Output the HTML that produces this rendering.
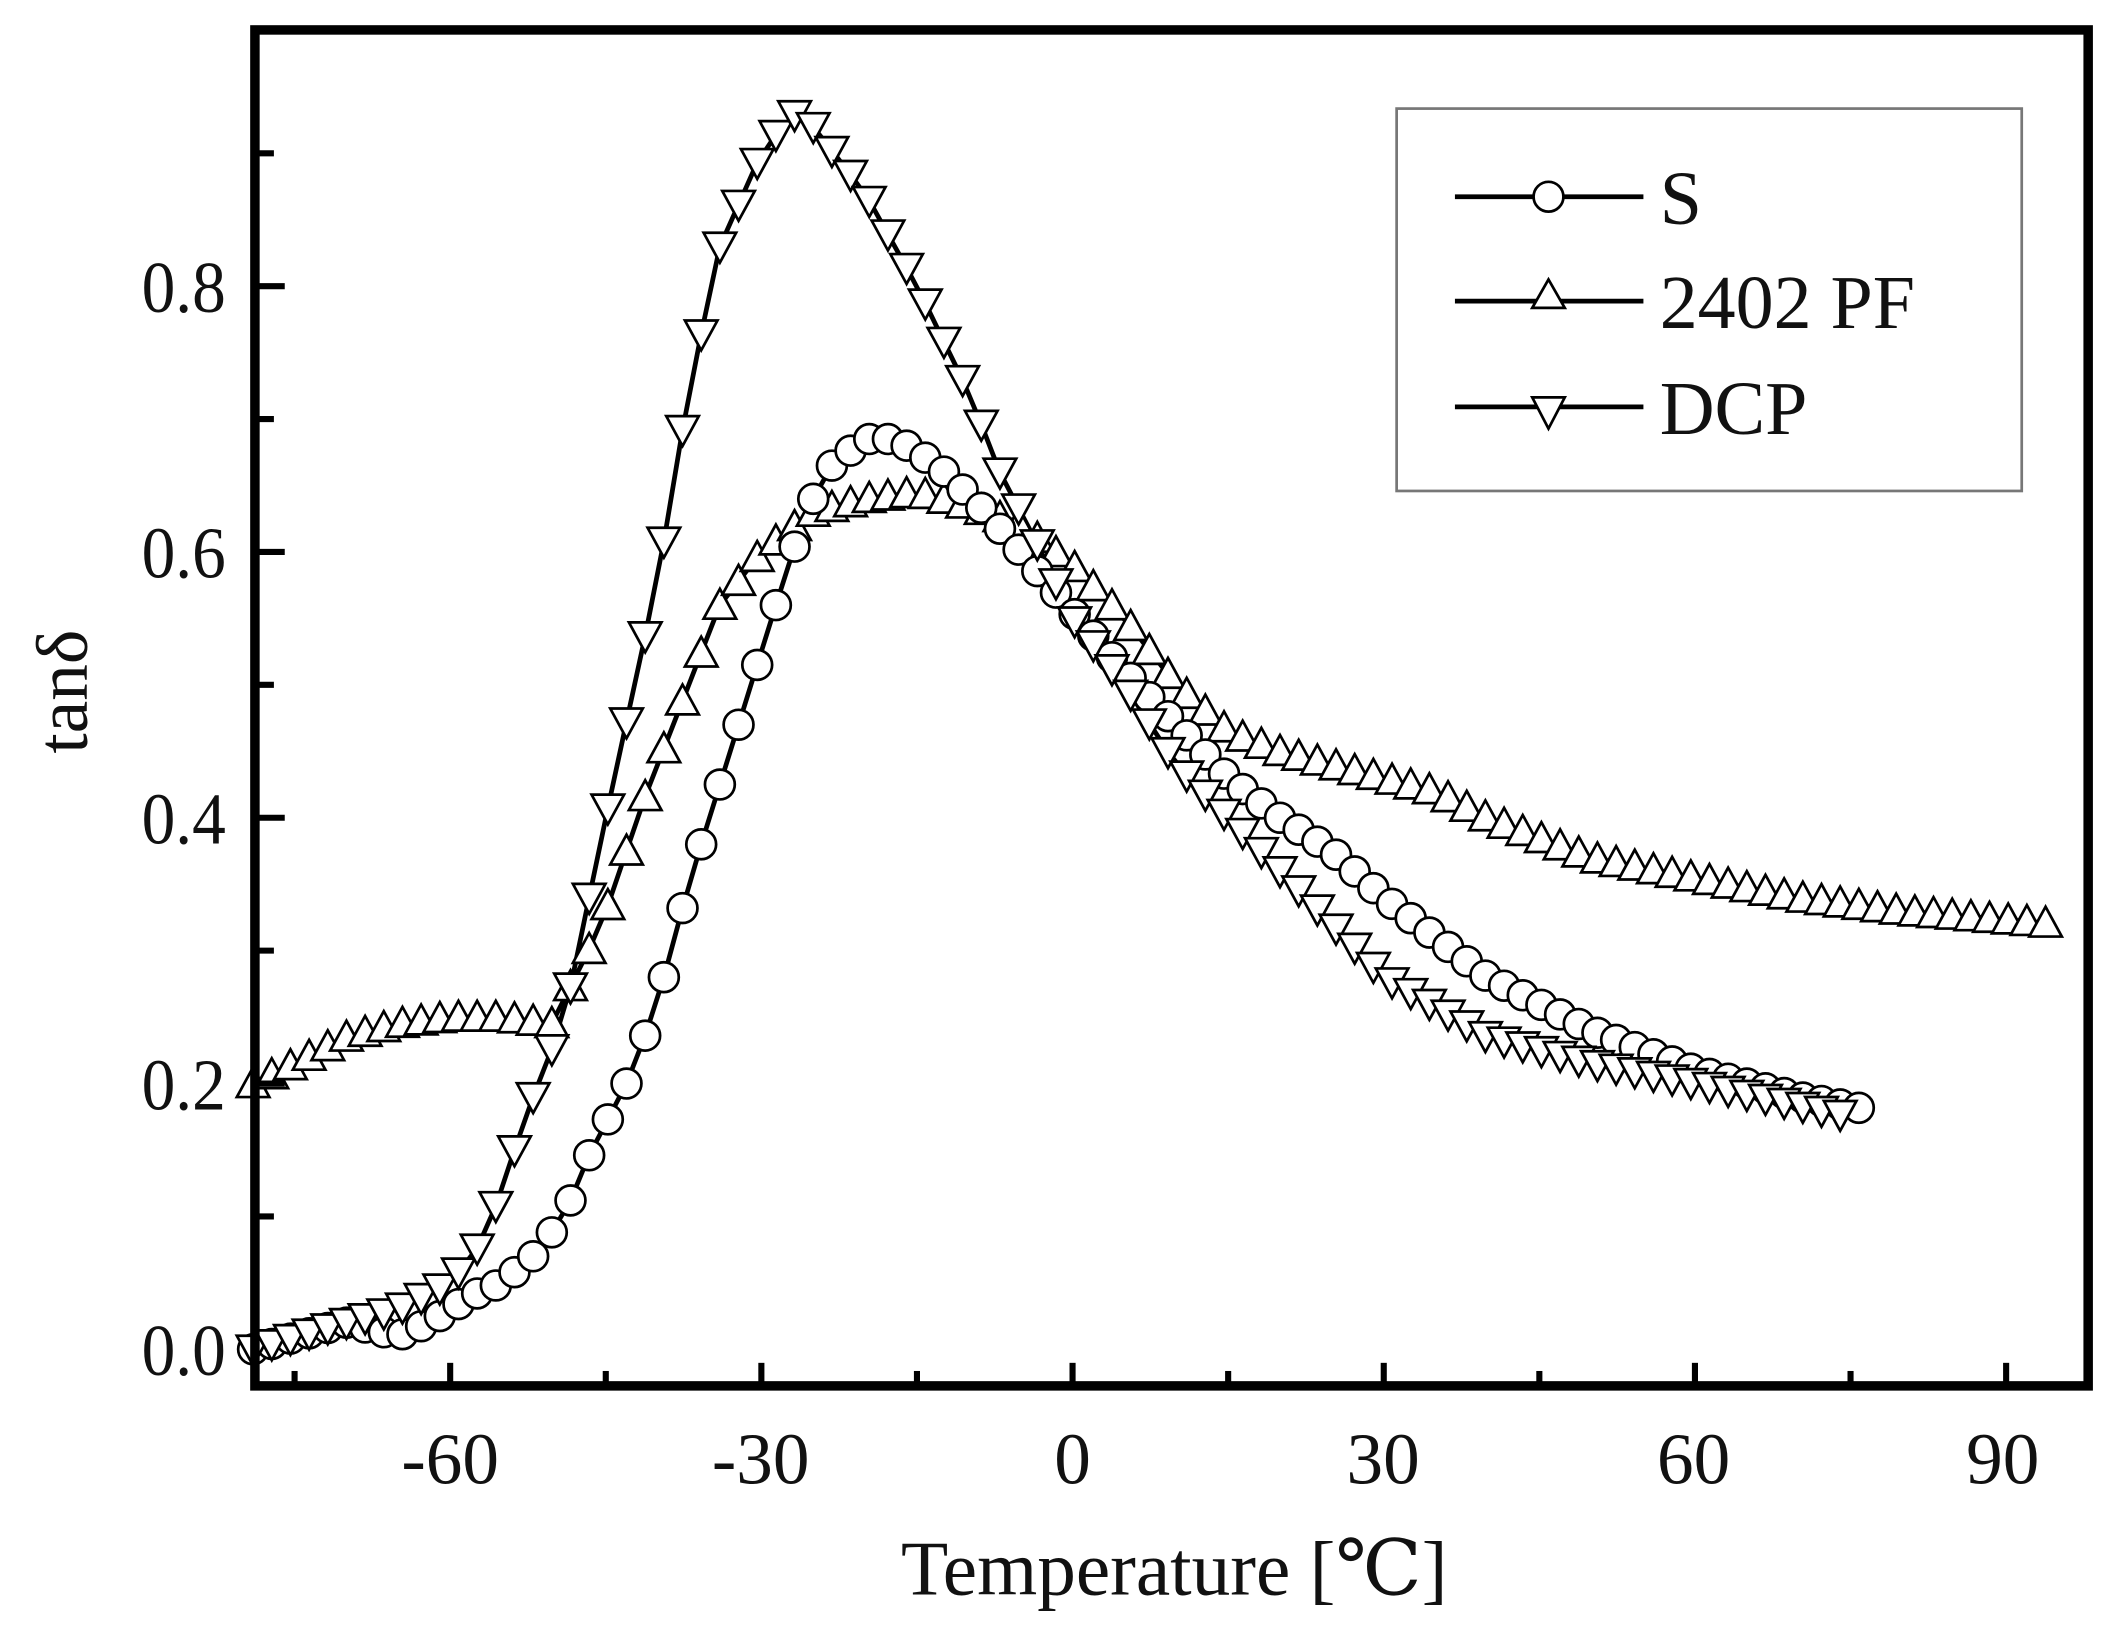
<!DOCTYPE html>
<html><head><meta charset="utf-8">
<style>
html,body{margin:0;padding:0;background:#fff;}
svg{display:block;}
text{font-family:"Liberation Serif","DejaVu Serif",serif;fill:#111;}
</style></head>
<body>
<svg id="s" width="2118" height="1626" viewBox="0 0 1562 1199" xmlns="http://www.w3.org/2000/svg">
<rect x="0" y="0" width="1562" height="1199" fill="#fff"/>
<g id="data"></g>
<rect x="188" y="22" width="1352" height="1000" fill="none" stroke="#000" stroke-width="7"/>
<g id="ticks" stroke="#000" stroke-width="4.5"></g>
<g font-size="54" text-anchor="end" transform="scale(0.92,1)">
<text x="181" y="1014">0.0</text>
<text x="181" y="818">0.2</text>
<text x="181" y="622">0.4</text>
<text x="181" y="426">0.6</text>
<text x="181" y="230">0.8</text>
</g>
<g font-size="54" text-anchor="middle">
<text x="332" y="1094">-60</text>
<text x="561" y="1094">-30</text>
<text x="791" y="1094">0</text>
<text x="1020" y="1094">30</text>
<text x="1249" y="1094">60</text>
<text x="1477" y="1094">90</text>
</g>
<text x="866" y="1176" font-size="57" text-anchor="middle">Temperature [℃]</text>
<text transform="translate(64,510) rotate(-90)" font-size="54" text-anchor="middle">tanδ</text>
<rect x="1030" y="80" width="461" height="282" fill="#fff" stroke="#777" stroke-width="2"/>
<g stroke="#000" stroke-width="3.5">
<line x1="1073" y1="145" x2="1212" y2="145"/>
<line x1="1073" y1="222" x2="1212" y2="222"/>
<line x1="1073" y1="300" x2="1212" y2="300"/>
</g>
<g fill="#fff" stroke="#000" stroke-width="2">
<circle cx="1142" cy="145" r="11"/>
<polygon points="1142,206 1130,227 1154,227"/>
<polygon points="1142,316 1130,293 1154,293"/>
</g>
<g font-size="56">
<text x="1224" y="165">S</text>
<text x="1224" y="242">2402 PF</text>
<text x="1224" y="320">DCP</text>
</g>
</svg>
<script>
(function(){
var NS="http://www.w3.org/2000/svg";
function X(t){return 791+t*7.65;}
function Y(v){return 995-v*980;}
var tk=document.getElementById('ticks');
function ln(a,b,c,d){var l=document.createElementNS(NS,'line');l.setAttribute('x1',a);l.setAttribute('y1',b);l.setAttribute('x2',c);l.setAttribute('y2',d);tk.appendChild(l);}
for(var t=-75;t<=90;t+=15){var x=X(t);var L=(t%30===0)?15:9;ln(x,1020,x,1020-L);}
for(var v=0.1;v<=0.95;v+=0.1){var y=Y(v);var r=Math.round(v*10);var L=(r%2===0)?20:12;ln(190,y,190+L,y);}
var S=[[-79,0.0],[-70,0.02],[-65,0.01],[-62,0.02],[-58,0.04],[-55,0.05],[-52,0.07],[-49,0.10],[-47,0.14],[-45,0.17],[-43,0.20],[-41,0.24],[-39,0.29],[-37,0.35],[-35,0.40],[-33,0.45],[-31,0.50],[-29,0.55],[-27,0.60],[-24,0.66],[-20,0.685],[-17,0.685],[-13,0.665],[-9,0.635],[-5,0.60],[0,0.555],[5,0.51],[10,0.47],[15,0.43],[20,0.40],[25,0.375],[30,0.34],[35,0.31],[40,0.28],[45,0.26],[50,0.24],[55,0.225],[60,0.21],[70,0.19],[77,0.18]];
var PF=[[-79,0.20],[-75,0.215],[-70,0.235],[-65,0.245],[-60,0.25],[-55,0.25],[-50,0.245],[-48,0.28],[-46,0.31],[-44,0.35],[-42,0.40],[-40,0.44],[-38,0.48],[-36,0.52],[-34,0.56],[-30,0.60],[-25,0.63],[-20,0.64],[-15,0.645],[-10,0.635],[-5,0.62],[0,0.59],[5,0.55],[10,0.50],[15,0.465],[20,0.45],[25,0.44],[30,0.43],[35,0.42],[40,0.40],[45,0.385],[50,0.37],[60,0.355],[70,0.34],[80,0.33],[95,0.32]];
var D=[[-79,0.0],[-70,0.02],[-65,0.03],[-60,0.05],[-57,0.08],[-55,0.12],[-53,0.17],[-51,0.21],[-49,0.25],[-45,0.40],[-40,0.58],[-37,0.72],[-34,0.83],[-30,0.90],[-27,0.93],[-25,0.92],[-20,0.87],[-15,0.80],[-10,0.72],[-7,0.66],[-3,0.60],[0,0.55],[5,0.50],[10,0.44],[20,0.36],[30,0.28],[40,0.235],[50,0.215],[60,0.20],[75,0.175]];
function interp(a,t){for(var i=0;i<a.length-1;i++){if(t>=a[i][0]&&t<=a[i+1][0]){var f=(t-a[i][0])/(a[i+1][0]-a[i][0]);return a[i][1]+f*(a[i+1][1]-a[i][1]);}}return a[a.length-1][1];}
var g=document.getElementById('data');
function series(a,step){
 var t0=a[0][0],t1=a[a.length-1][0],pts=[];
 for(var t=t0;t<=t1+1e-6;t+=step)pts.push([X(t),Y(interp(a,t))]);
 var pl=document.createElementNS(NS,'polyline');
 pl.setAttribute('points',pts.map(function(p){return p[0].toFixed(1)+','+p[1].toFixed(1);}).join(' '));
 pl.setAttribute('fill','none');pl.setAttribute('stroke','#000');pl.setAttribute('stroke-width','3.5');
 g.appendChild(pl);
 return pts;
}
function marks(pts,type){
 pts.forEach(function(p){var e;
  if(type==='c'){e=document.createElementNS(NS,'circle');e.setAttribute('cx',p[0]);e.setAttribute('cy',p[1]);e.setAttribute('r',11);}
  else{e=document.createElementNS(NS,'polygon');var x=p[0],y=p[1];
   e.setAttribute('points',type==='u'?(x+','+(y-12)+' '+(x-12)+','+(y+10)+' '+(x+12)+','+(y+10)):(x+','+(y+12)+' '+(x-12)+','+(y-10)+' '+(x+12)+','+(y-10)));}
  e.setAttribute('fill','#fff');e.setAttribute('stroke','#000');e.setAttribute('stroke-width','2');g.appendChild(e);});
}
var p1=series(PF,1.8),p2=series(S,1.8),p3=series(D,1.8);
marks(p1,'u');marks(p2,'c');marks(p3,'d');
})();
</script>
</body></html>
